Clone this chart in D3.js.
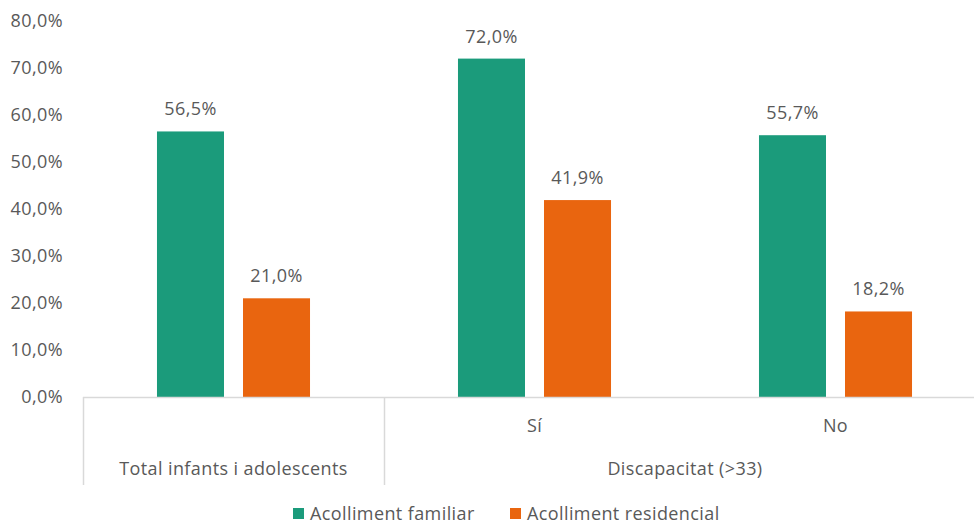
<!DOCTYPE html>
<html>
<head>
<meta charset="utf-8">
<script src="https://cdn.jsdelivr.net/npm/d3@7"></script>
<style>
  html, body { margin: 0; padding: 0; background: #fff; }
  svg { display: block; font-family: "Open Sans", "Noto Sans", sans-serif; }
  .lbl { font-size: 18px; letter-spacing: 0.4px; fill: #595959; }
</style>
</head>
<body>
<svg id="chart" width="974" height="525"></svg>
<script>
// Categories (bottom level) and their groups (top level)
const categories = ["", "Sí", "No"];
const groups = [
  { label: "Total infants i adolescents", from: 0, to: 1 },
  { label: "Discapacitat (>33)", from: 1, to: 3 }
];
const seriesNames = ["Acolliment familiar", "Acolliment residencial"];
const familiar = [56.5, 72.0, 55.7];
const residencial = [21.0, 41.9, 18.2];
const yTicks = [0, 10, 20, 30, 40, 50, 60, 70, 80];
const colors = ["#1b9b7b", "#e9650f"];

const svg = d3.select("#chart");
const plotLeft = 83, plotRight = 986, plotTop = 21, plotBottom = 397;

const x = d3.scaleBand().domain(d3.range(categories.length)).range([plotLeft, plotRight]);
const xs = d3.scaleBand().domain([0, 1]).range([0, x.bandwidth()]).paddingInner(0.221).paddingOuter(0.86);
const y = d3.scaleLinear().domain([0, 80]).range([plotBottom, plotTop]);

const fmt = v => d3.format(".1f")(v).replace(".", ",") + "%";
const lineColor = "#d9d9d9";

// Y axis labels (no axis line)
const yAxis = d3.axisLeft(y).tickValues(yTicks).tickFormat(fmt).tickSize(0).tickPadding(0);
const ya = svg.append("g").attr("transform", `translate(${plotLeft - 20},0)`).call(yAxis);
ya.select(".domain").remove();
ya.attr("font-family", null).attr("font-size", null);
ya.selectAll("text").attr("class", "lbl").attr("fill", null);

// Bars with value labels
const data = [familiar, residencial];
categories.forEach((c, i) => {
  data.forEach((series, s) => {
    const v = series[i];
    const bx = x(i) + xs(s);
    svg.append("rect")
      .attr("x", bx).attr("y", y(v))
      .attr("width", xs.bandwidth()).attr("height", y(0) - y(v))
      .attr("fill", colors[s]);
    svg.append("text").attr("class", "lbl")
      .attr("x", bx + xs.bandwidth() / 2).attr("y", y(v) - 16)
      .attr("text-anchor", "middle").text(fmt(v));
  });
});

// Category axis baseline
svg.append("line").attr("x1", plotLeft).attr("x2", plotRight).attr("y1", plotBottom + 0.5).attr("y2", plotBottom + 0.5)
  .attr("stroke", lineColor).attr("stroke-width", 1.5);

// Group separators
[0, 1].forEach(k => {
  const sx = x(k);
  svg.append("line").attr("x1", sx + 0.5).attr("x2", sx + 0.5).attr("y1", plotBottom).attr("y2", 485)
    .attr("stroke", lineColor).attr("stroke-width", 1.5);
});

// Bottom-level labels
categories.forEach((c, i) => {
  if (!c) return;
  svg.append("text").attr("class", "lbl").attr("x", x(i) + x.bandwidth() / 2).attr("y", 432)
    .attr("text-anchor", "middle").text(c);
});

// Group labels
groups.forEach(g => {
  const gx = (x(g.from) + (g.to < categories.length ? x(g.to) : plotRight)) / 2;
  svg.append("text").attr("class", "lbl").attr("x", gx).attr("y", 475)
    .attr("text-anchor", "middle").text(g.label);
});

// Legend
const legend = svg.append("g");
const legendX = [293, 510];
seriesNames.forEach((n, s) => {
  legend.append("rect").attr("x", legendX[s]).attr("y", 508).attr("width", 11).attr("height", 11).attr("fill", colors[s]);
  legend.append("text").attr("class", "lbl").attr("x", legendX[s] + 17).attr("y", 520).text(n);
});
</script>
</body>
</html>
